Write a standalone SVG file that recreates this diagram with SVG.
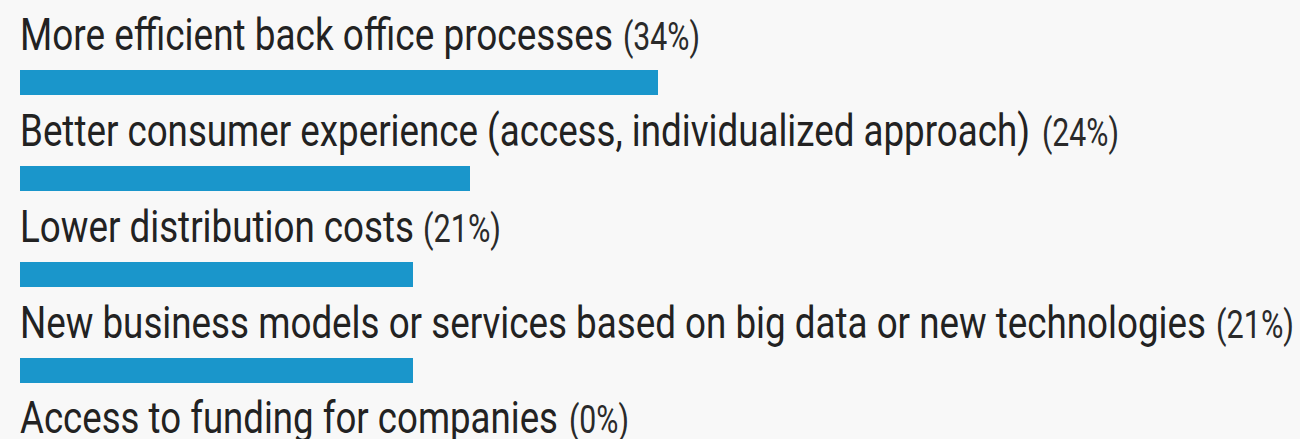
<svg xmlns="http://www.w3.org/2000/svg" width="1300" height="439" viewBox="0 0 1300 439">
<style>
.lbl{font-family:Roboto,"Liberation Sans",sans-serif;font-size:45px;fill:#222222}
.pct{font-family:Roboto,"Liberation Sans",sans-serif;font-size:38px;fill:#2a2a2a}
.bar{fill:#1a96cb}
</style>
<rect width="1300" height="439" fill="#f8f8f8"/>
<g id="row1">
<text class="lbl" x="20" y="50" textLength="593" lengthAdjust="spacingAndGlyphs">More efficient back office processes</text>
<text class="pct" x="623" y="50" textLength="77" lengthAdjust="spacingAndGlyphs">(34%)</text>
<rect class="bar" x="20" y="70" width="638" height="25"/>
</g>
<g id="row2">
<text class="lbl" x="20" y="146" textLength="1010" lengthAdjust="spacingAndGlyphs">Better consumer experience (access, individualized approach)</text>
<text class="pct" x="1042" y="146" textLength="77" lengthAdjust="spacingAndGlyphs">(24%)</text>
<rect class="bar" x="20" y="166" width="450" height="25"/>
</g>
<g id="row3">
<text class="lbl" x="20" y="242" textLength="394" lengthAdjust="spacingAndGlyphs">Lower distribution costs</text>
<text class="pct" x="423" y="242" textLength="78" lengthAdjust="spacingAndGlyphs">(21%)</text>
<rect class="bar" x="20" y="262" width="393" height="25"/>
</g>
<g id="row4">
<text class="lbl" x="20" y="338" textLength="1186" lengthAdjust="spacingAndGlyphs">New business models or services based on big data or new technologies</text>
<text class="pct" x="1216" y="338" textLength="78" lengthAdjust="spacingAndGlyphs">(21%)</text>
<rect class="bar" x="20" y="358" width="393" height="25"/>
</g>
<g id="row5">
<text class="lbl" x="20" y="433" textLength="538" lengthAdjust="spacingAndGlyphs">Access to funding for companies</text>
<text class="pct" x="569" y="433" textLength="60" lengthAdjust="spacingAndGlyphs">(0%)</text>
</g>
</svg>
